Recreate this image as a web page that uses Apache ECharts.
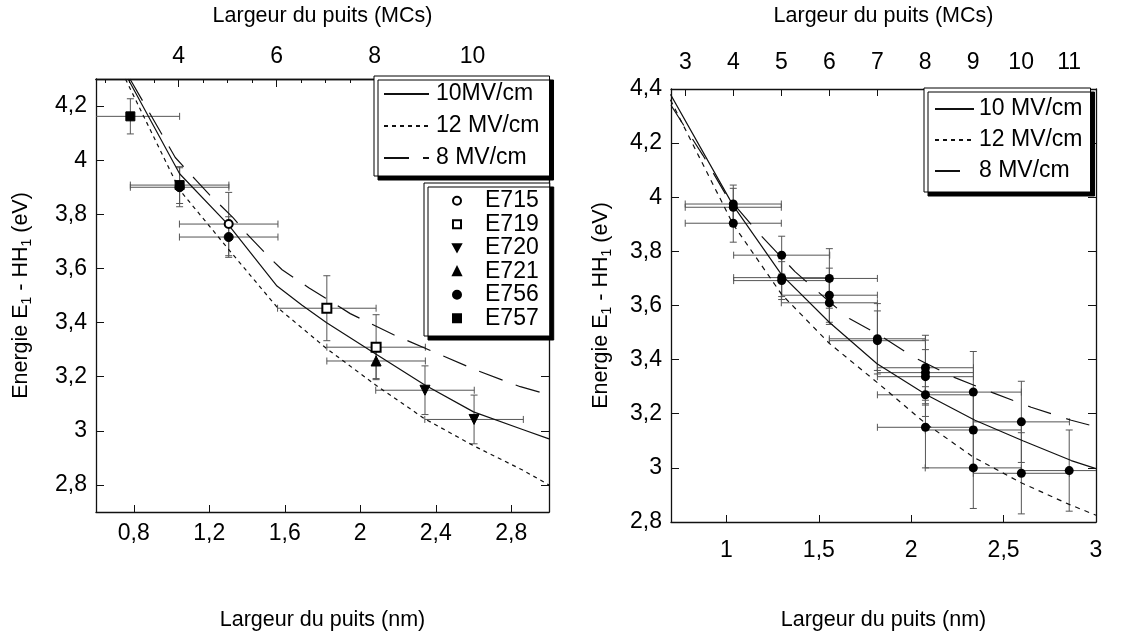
<!DOCTYPE html>
<html><head><meta charset="utf-8">
<script src="https://cdn.jsdelivr.net/npm/echarts@6/dist/echarts.min.js"></script>
<style>html,body{margin:0;padding:0;background:#fff}#c{width:1140px;height:636px}</style>
</head><body><div id="c"></div>
<script>
// ---------- constants / tick arrays ----------
const ML = 0.2595; // nm per monolayer (MC)

const leftNmTicks = [0.8, 1.2, 1.6, 2.0, 2.4, 2.8];
const leftETicks = [2.8, 3.0, 3.2, 3.4, 3.6, 3.8, 4.0, 4.2];
const leftMcLabels = [4, 6, 8, 10];
const leftMcMinor = [2.5, 3, 3.5, 4, 4.5, 5, 5.5, 6, 6.5, 7, 7.5, 8, 8.5, 9, 9.5, 10, 10.5, 11, 11.5];

const rightNmTicks = [1, 1.5, 2, 2.5, 3];
const rightETicks = [2.8, 3.0, 3.2, 3.4, 3.6, 3.8, 4.0, 4.2, 4.4];
const rightMcTicks = [3, 4, 5, 6, 7, 8, 9, 10, 11];

// ---------- left panel: theory curves ----------
const l10x = [0.77, 1.043, 1.303, 1.559, 1.69, 1.82, 2.08, 2.34, 2.60, 2.86, 3.0];
const l10y = [4.30, 3.95, 3.76, 3.535, 3.465, 3.40, 3.285, 3.17, 3.07, 3.005, 2.97];
const l12x = [0.756, 1.043, 1.303, 1.559, 1.82, 2.08, 2.34, 2.60, 2.86, 3.0];
const l12y = [4.30, 3.89, 3.67, 3.457, 3.305, 3.17, 3.045, 2.945, 2.855, 2.80];
const l8x = [0.78, 1.02, 1.127, 1.202, 1.326, 1.395, 1.515, 1.586, 1.727, 1.815, 1.947, 2.177, 2.398, 2.618, 2.848, 3.0];
const l8y = [4.30, 4.01, 3.928, 3.872, 3.788, 3.731, 3.643, 3.595, 3.529, 3.491, 3.433, 3.355, 3.289, 3.223, 3.163, 3.133];

// ---------- left panel: measurements [x nm, E eV, ±dx, ±dy] ----------
const E715 = [[1.303, 3.764, 0.261, 0.117]];
const E719 = [[1.823, 3.453, 0.261, 0.12], [2.084, 3.309, 0.261, 0.12]];
const E720 = [[2.343, 3.150, 0.261, 0.09], [2.603, 3.042, 0.261, 0.09]];
const E721 = [[2.084, 3.258, 0.261, 0.065]];
const E756 = [[1.043, 3.900, 0.261, 0.072], [1.303, 3.716, 0.261, 0.075]];
const E757 = [[0.782, 4.162, 0.261, 0.065], [1.043, 3.908, 0.261, 0.068]];

// ---------- right panel: theory curves ----------
const r10x = [0.697, 1.036, 1.30, 1.558, 1.815, 2.082, 2.345, 2.604, 2.866, 3.0];
const r10y = [4.38, 3.97, 3.712, 3.537, 3.385, 3.27, 3.176, 3.10, 3.027, 2.997];
const r12x = [0.697, 1.036, 1.30, 1.557, 1.817, 2.076, 2.336, 2.595, 2.855, 3.0];
const r12y = [4.36, 3.90, 3.64, 3.46, 3.315, 3.165, 3.04, 2.945, 2.865, 2.825];
const r8x = [0.70, 0.792, 0.873, 1.0, 1.172, 1.371, 1.562, 1.665, 1.828, 2.014, 2.223, 2.44, 2.649, 2.866, 3.0];
const r8y = [4.34, 4.241, 4.155, 4.006, 3.869, 3.725, 3.611, 3.552, 3.491, 3.409, 3.337, 3.278, 3.224, 3.176, 3.152];

// ---------- right panel: measurements [x nm, E eV, ±dx, ±dy] ----------
const rightPts = [
  [1.037, 3.975, 0.26, 0.07], [1.037, 3.963, 0.26, 0.07], [1.037, 3.904, 0.26, 0.07],
  [1.299, 3.786, 0.26, 0.07], [1.299, 3.703, 0.26, 0.07], [1.299, 3.692, 0.26, 0.07],
  [1.557, 3.700, 0.26, 0.11], [1.557, 3.638, 0.26, 0.10], [1.557, 3.610, 0.26, 0.08],
  [1.817, 3.477, 0.26, 0.13], [1.817, 3.470, 0.26, 0.11],
  [2.077, 3.370, 0.26, 0.12], [2.077, 3.352, 0.26, 0.12], [2.077, 3.337, 0.26, 0.10],
  [2.077, 3.270, 0.26, 0.08], [2.077, 3.150, 0.26, 0.15],
  [2.336, 3.280, 0.26, 0.15], [2.336, 3.140, 0.26, 0.15], [2.336, 3.000, 0.26, 0.15],
  [2.596, 3.170, 0.26, 0.15], [2.596, 2.980, 0.26, 0.15],
  [2.855, 2.990, 0.26, 0.15]
];

// ---------- helpers ----------
const FONT = '"Liberation Sans", Arial, sans-serif';
const fmt = v => String(Math.round(v * 100) / 100).replace('.', ',');
const zip = (xs, ys) => xs.map((x, i) => [x, ys[i]]);
const TXT = 23;
const NAME = 21.5;

function errRender(color, cap) {
  return function (params, api) {
    const x = api.value(0), y = api.value(1), dx = api.value(2), dy = api.value(3);
    const l = api.coord([x - dx, y]), r = api.coord([x + dx, y]);
    const t = api.coord([x, y + dy]), b = api.coord([x, y - dy]);
    const st = { stroke: color, lineWidth: 1 };
    const ln = (x1, y1, x2, y2) => ({ type: 'line', shape: { x1, y1, x2, y2 }, style: st });
    return {
      type: 'group', children: [
        ln(l[0], l[1], r[0], r[1]),
        ln(l[0], l[1] - cap, l[0], l[1] + cap),
        ln(r[0], r[1] - cap, r[0], r[1] + cap),
        ln(t[0], t[1], b[0], b[1]),
        ln(t[0] - cap, t[1], t[0] + cap, t[1]),
        ln(b[0] - cap, b[1], b[0] + cap, b[1])
      ]
    };
  };
}

const axisLine = { show: true, lineStyle: { color: '#111', width: 1.3 } };
const labelStyle = { fontSize: TXT, fontFamily: FONT, color: '#000' };
const nameStyle = { fontSize: NAME, fontFamily: FONT, color: '#000' };
const yNameStyle = {
  fontSize: NAME, fontFamily: FONT, color: '#000',
  rich: { s: { fontSize: 14, fontFamily: FONT, color: '#000', padding: [12, 0, 0, 0] } }
};
const yName = 'Energie E{s|1} - HH{s|1} (eV)';

function xNm(grid, min, max, ticks, margin, gap) {
  return {
    gridIndex: grid, type: 'value', position: 'bottom', min, max,
    axisLine, splitLine: { show: false },
    axisTick: { show: true, inside: true, length: 7, customValues: ticks, lineStyle: { color: '#111' } },
    axisLabel: { ...labelStyle, margin, customValues: ticks, formatter: fmt },
    name: 'Largeur du puits (nm)', nameLocation: 'middle', nameGap: gap, nameTextStyle: nameStyle
  };
}
function xMc(grid, min, max, ticks, labels, len, margin, gap, showName) {
  return {
    gridIndex: grid, type: 'value', position: 'top', min: min / ML, max: max / ML,
    axisLine, splitLine: { show: false },
    axisTick: { show: true, inside: true, length: len, customValues: ticks, lineStyle: { color: '#111' } },
    axisLabel: labels ? { ...labelStyle, margin, customValues: labels, formatter: v => String(v) } : { show: false },
    name: showName ? 'Largeur du puits (MCs)' : '', nameLocation: 'middle', nameGap: gap, nameTextStyle: nameStyle
  };
}
function yE(grid, pos, min, max, ticks, withLabel, gap) {
  return {
    gridIndex: grid, type: 'value', position: pos, min, max,
    axisLine, splitLine: { show: false },
    axisTick: { show: true, inside: true, length: 8, customValues: ticks, lineStyle: { color: '#111' } },
    axisLabel: withLabel ? { ...labelStyle, margin: 9, customValues: ticks, formatter: fmt } : { show: false },
    name: withLabel ? yName : '', nameLocation: 'middle', nameGap: gap, nameTextStyle: yNameStyle
  };
}

const lineSeries = (name, xs, ys, type, xi, yi) => ({
  name, type: 'line', xAxisIndex: xi, yAxisIndex: yi, data: zip(xs, ys),
  symbol: 'none', smooth: false, clip: true, z: 3,
  itemStyle: { color: '#111' },
  lineStyle: { color: '#111', width: 1.2, type }
});
const scat = (name, data, symbol, size, rot) => ({
  name, type: 'scatter', xAxisIndex: 0, yAxisIndex: 0, z: 5,
  data: data.map(p => [p[0], p[1]]), symbol, symbolSize: size, symbolRotate: rot || 0,
  itemStyle: { color: '#000', borderColor: '#000', borderWidth: 1, opacity: 1 }
});

const leftAll = [].concat(E715, E719, E720, E721, E756, E757);

const legendBase = {
  orient: 'vertical', selectedMode: false, backgroundColor: '#fff',
  borderColor: '#000', borderWidth: 1, borderRadius: 0,
  shadowColor: '#000', shadowBlur: 0, shadowOffsetX: 4, shadowOffsetY: 4
};

const option = {
  backgroundColor: '#fff',
  animation: false,
  grid: [
    { left: 96, top: 73, width: 453, height: 445 },
    { left: 671, top: 83, width: 425, height: 445 }
  ],
  xAxis: [
    xNm(0, 0.6, 3.0, leftNmTicks, 10, 97),
    xMc(0, 0.6, 3.0, leftMcMinor, leftMcLabels, 4, 11, 52, true),
    xMc(0, 0.6, 3.0, leftMcLabels, null, 8, 0, 0, false),
    xNm(1, 0.7, 3.0, rightNmTicks, 17, 87),
    xMc(1, 0.7, 3.0, rightMcTicks, rightMcTicks, 7, 15, 62, true)
  ],
  yAxis: [
    yE(0, 'left', 2.7, 4.3, leftETicks, true, 62),
    yE(0, 'right', 2.7, 4.3, leftETicks, false, 0),
    yE(1, 'left', 2.8, 4.4, rightETicks, true, 57),
    yE(1, 'right', 2.8, 4.4, rightETicks, false, 0)
  ],
  legend: [
    Object.assign({}, legendBase, {
      left: 374, top: 76, data: ['10MV/cm', '12 MV/cm', '8 MV/cm'],
      itemWidth: 45, itemHeight: 14, itemGap: 8, padding: [6, 10, 6, 9],
      itemStyle: { opacity: 0 },
      textStyle: { fontSize: TXT, fontFamily: FONT, color: '#000', lineHeight: 24, padding: [0, 0, 0, 2] }
    }),
    Object.assign({}, legendBase, {
      left: 424, top: 183,
      data: ['E715', 'E719', { name: 'E720', icon: 'path://M0,0 L10,0 L5,9 Z' }, 'E721', 'E756', 'E757'],
      itemWidth: 8, itemHeight: 8, itemGap: 0, padding: [6, 11, 6, 28],
      symbolKeepAspect: true,
      itemStyle: { opacity: 1 },
      textStyle: { fontSize: TXT, fontFamily: FONT, color: '#000', lineHeight: 23.5, padding: [0, 0, 0, 19] }
    }),
    Object.assign({}, legendBase, {
      left: 924, top: 88, data: ['10 MV/cm', '12 MV/cm', '8 MV/cm'],
      itemWidth: 39, itemHeight: 14, itemGap: 7, padding: [9, 8, 9, 10],
      itemStyle: { opacity: 0 },
      textStyle: { fontSize: TXT, fontFamily: FONT, color: '#000', lineHeight: 24 }
    })
  ],
  series: [
    { type: 'custom', name: 'err-left', xAxisIndex: 0, yAxisIndex: 0, clip: true, z: 2,
      renderItem: errRender('#555', 3.5), data: leftAll },
    lineSeries('10MV/cm', l10x, l10y, 'solid', 0, 0),
    lineSeries('12 MV/cm', l12x, l12y, [4, 4], 0, 0),
    lineSeries('8 MV/cm', l8x, l8y, [25, 14], 0, 0),
    scat('E715', E715, 'emptyCircle', 8),
    scat('E719', E719, 'emptyRect', 9),
    scat('E720', E720, 'triangle', 10, 180),
    scat('E721', E721, 'triangle', 10),
    scat('E756', E756, 'circle', 9),
    scat('E757', E757, 'rect', 9),

    { type: 'custom', name: 'err-right', xAxisIndex: 3, yAxisIndex: 2, clip: true, z: 2,
      renderItem: errRender('#555', 3.5), data: rightPts },
    lineSeries('10 MV/cm', r10x, r10y, 'solid', 3, 2),
    lineSeries('12 MV/cm', r12x, r12y, [5, 5], 3, 2),
    lineSeries('8 MV/cm', r8x, r8y, [24, 16], 3, 2),
    { name: 'mesures', type: 'scatter', xAxisIndex: 3, yAxisIndex: 2, z: 5,
      data: rightPts.map(p => [p[0], p[1]]), symbol: 'circle', symbolSize: 9,
      itemStyle: { color: '#000', opacity: 1 } }
  ]
};

const chart = echarts.init(document.getElementById('c'));
chart.setOption(option);
</script>
</body></html>
